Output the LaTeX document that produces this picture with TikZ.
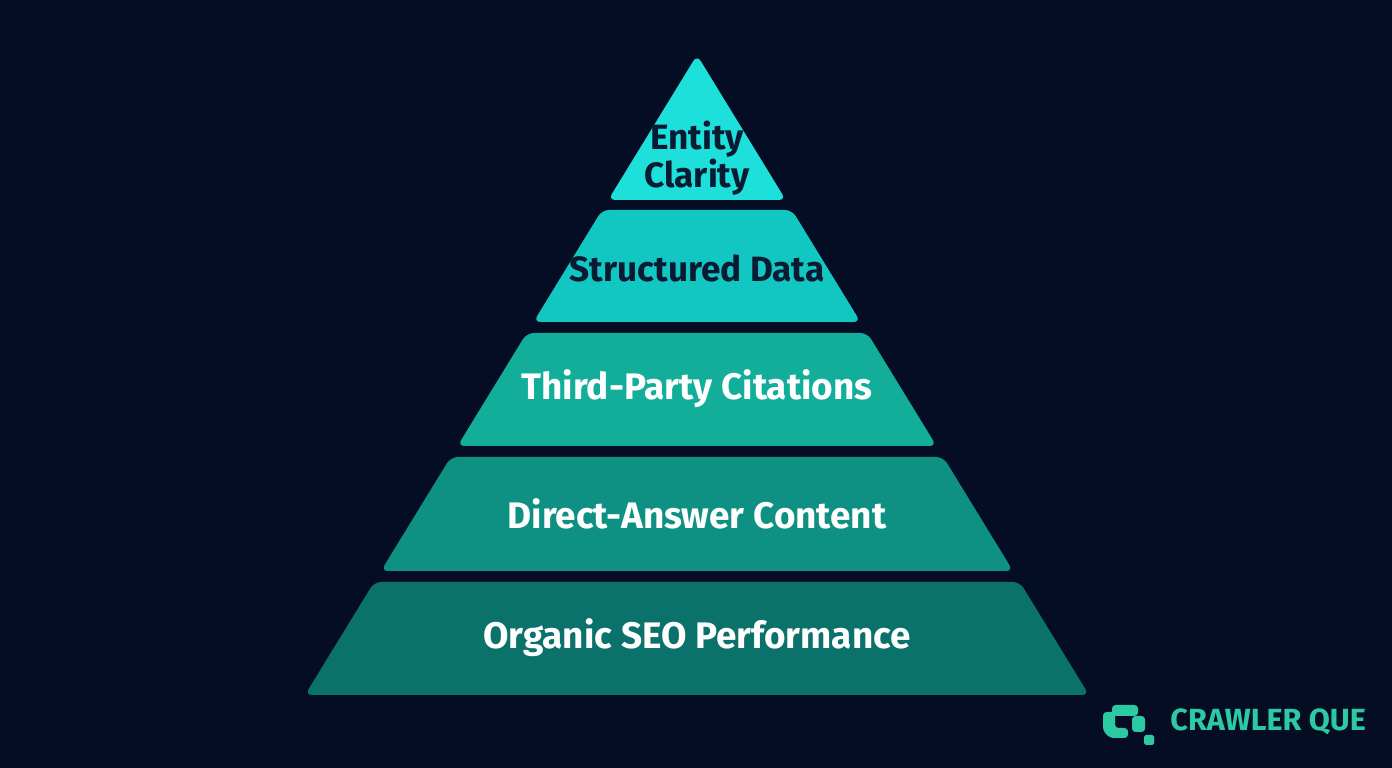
\documentclass[tikz,border=0pt]{standalone}
\usepackage{fontspec}
\setmainfont{Fira Sans}
\usetikzlibrary{positioning}
\definecolor{bgnavy}{HTML}{050D24}
\definecolor{lay1}{HTML}{1DE0DA}
\definecolor{lay2}{HTML}{12C6C2}
\definecolor{lay3}{HTML}{12AE9A}
\definecolor{lay4}{HTML}{0E9183}
\definecolor{lay5}{HTML}{0A716B}
\definecolor{darktxt}{HTML}{0A1A33}
\definecolor{logo}{HTML}{2CC9A2}
\tikzstyle{layer}=[rounded corners=2pt]
\tikzstyle{label}=[font=\fontsize{10.5}{11}\selectfont\bfseries,align=center]
\tikzstyle{toplabel}=[label,font=\fontsize{10}{11}\selectfont\bfseries]
\newcommand{\px}[1]{697-0.6125*(#1-55)}
\newcommand{\pxr}[1]{697+0.6125*(#1-55)}
\begin{document}
\begin{tikzpicture}[x=0.01cm,y=-0.01cm]
\fill[bgnavy] (0,0) rectangle (1392,768);
\useasboundingbox (0,0) rectangle (1392,768);
% pyramid layers
\fill[lay1,layer] ({\px{55}},55) -- ({\px{200}},200) -- ({\pxr{200}},200) -- cycle;
\foreach \top/\bot/\col in {210/322/lay2, 333/446/lay3, 457/571/lay4, 582/695/lay5}
  \fill[\col,layer] ({\px{\top}},\top) -- ({\pxr{\top}},\top) -- ({\pxr{\bot}},\bot) -- ({\px{\bot}},\bot) -- cycle;
% labels
\node[toplabel,darktxt] (entity) at (697,158) {Entity\\Clarity};
\node[toplabel,darktxt] (structured) at (697,268) {Structured Data};
\node[label,white] (thirdparty) at (697,389) {Third-Party Citations};
\node[label,white] (directans) at (697,514) {Direct-Answer Content};
\node[label,white] (organic) at (697,638) {Organic SEO Performance};
% logo
\fill[logo,rounded corners=1pt] (1112,705) rectangle (1138,716);
\fill[logo,rounded corners=1pt] (1103,712) -- (1115,712) -- (1115,728) -- (1128,728) -- (1128,738) -- (1110,738) -- (1103,731) -- cycle;
\fill[logo,rounded corners=1pt] (1132,716) rectangle (1145,732);
\fill[logo,rounded corners=0.5pt] (1144,735) rectangle (1154,745);
\node[font=\fontsize{8.7}{10}\selectfont\bfseries,logo,anchor=west] (brand) at (1158,722) {CRAWLER QUE};
\end{tikzpicture}
\end{document}
